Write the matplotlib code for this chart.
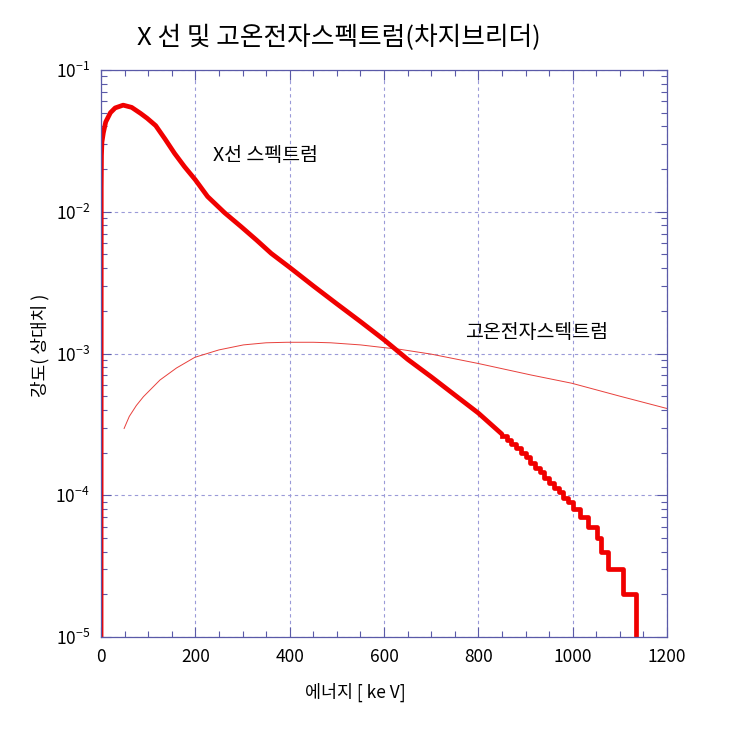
import numpy as np
import matplotlib
matplotlib.use("Agg")
import matplotlib.pyplot as plt
import matplotlib.ticker as mtick

plt.rcParams['font.family'] = ['Noto Sans CJK KR', 'DejaVu Sans']
plt.rcParams['mathtext.fontset'] = 'custom'
plt.rcParams['mathtext.rm'] = 'Noto Sans CJK KR'

# X-ray spectrum, smooth part (keV, relative intensity)
xray_e = [0, 0.5, 1, 2, 5, 10, 20, 30, 47, 65, 84, 98, 116, 136, 156, 177, 200, 226, 262,
          297, 330, 361, 400, 450, 500, 550, 600, 650, 700, 750, 800, 850]
xray_i = [1e-6, 0.015, 0.025, 0.031, 0.036, 0.043, 0.050, 0.054, 0.0565, 0.0545, 0.0494,
          0.0456, 0.0405, 0.0325, 0.0258, 0.0208, 0.0168, 0.0128, 0.00984, 0.00785,
          0.0063, 0.00508, 0.00405, 0.0030, 0.00224, 0.00168, 0.00125, 0.00091,
          0.000685, 0.00051, 0.00038, 0.00027]

# X-ray spectrum, histogram tail (left bin edges, counts-like values)
tail_e = [850, 860, 870, 880, 890, 900, 910, 920, 930, 940, 950, 960, 970, 980, 990,
          1001, 1016, 1033, 1051, 1061, 1075, 1107, 1134]
tail_i = [2.6e-4, 2.45e-4, 2.3e-4, 2.15e-4, 2.0e-4, 1.85e-4, 1.7e-4, 1.55e-4, 1.45e-4,
          1.32e-4, 1.22e-4, 1.12e-4, 1.05e-4, 9.6e-5, 9e-5,
          8e-5, 7e-5, 6e-5, 5e-5, 4e-5, 3e-5, 2e-5, 1e-6]

# hot electron spectrum
hot_e = [49, 60, 75, 90, 125, 160, 199, 250, 302, 350, 394, 450, 487, 550, 600, 634,
         700, 800, 912, 998, 1100, 1199]
hot_i = [2.96e-4, 3.6e-4, 4.3e-4, 4.96e-4, 6.5e-4, 7.9e-4, 9.4e-4, 1.06e-3, 1.15e-3,
         1.19e-3, 1.2e-3, 1.2e-3, 1.19e-3, 1.15e-3, 1.1e-3, 1.07e-3, 9.9e-4, 8.5e-4,
         7.05e-4, 6.17e-4, 5.0e-4, 4.1e-4]

axcol = '#5a5aa8'
gridcol = '#9a9ad8'

fig = plt.figure(figsize=(7.43, 7.49), dpi=100)
ax = fig.add_axes([101 / 743, 1 - 637 / 749, 566 / 743, 567 / 749])

ax.plot(hot_e, hot_i, color='#e8403c', lw=0.7)
ax.plot(xray_e, xray_i, color='#f00000', lw=3.4, solid_joinstyle='round',
        solid_capstyle='round')
ax.step(tail_e, tail_i, where='post', color='#f00000', lw=3.4)

ax.set_yscale('log')
ax.set_xlim(0, 1200)
ax.set_ylim(1e-5, 1e-1)

ax.xaxis.set_major_locator(mtick.MultipleLocator(200))
ax.xaxis.set_minor_locator(mtick.MultipleLocator(50))
ax.yaxis.set_major_locator(mtick.LogLocator(base=10, numticks=10))
ax.yaxis.set_minor_locator(mtick.LogLocator(base=10, subs=np.arange(2, 10), numticks=10))
ax.yaxis.set_major_formatter(mtick.FuncFormatter(
    lambda v, p: r'10$^{%d}$' % int(round(np.log10(v)))))
ax.yaxis.set_minor_formatter(mtick.NullFormatter())

ax.tick_params(which='both', direction='in', top=True, right=True, colors=axcol,
               labelcolor='black', labelsize=12.5, width=0.8)
ax.tick_params(which='major', length=7, pad=8)
ax.tick_params(which='minor', length=4)
for s in ax.spines.values():
    s.set_color(axcol)
    s.set_linewidth(0.9)

ax.grid(True, which='major', color=gridcol, ls=(0, (3, 3)), lw=0.8)

ax.text(237, 0.025, 'X선 스펙트럼', fontsize=14, ha='left', va='center')
ax.text(772, 1.4e-3, '고온전자스텍트럼', fontsize=14, ha='left', va='center')

fig.text(0.456, 0.949, 'X 선 및 고온전자스펙트럼(차지브리더)', fontsize=18.5,
         ha='center', va='center', fontweight='medium')
fig.text(355 / 743, 1 - 692 / 749, '에너지 [ ke V]', fontsize=12.5, ha='center', va='center')
fig.text(40 / 743, 1 - 345 / 749, '강도( 상대치 )', fontsize=13, ha='center', va='center',
         rotation=90)

fig.savefig('out.png', dpi=100)
